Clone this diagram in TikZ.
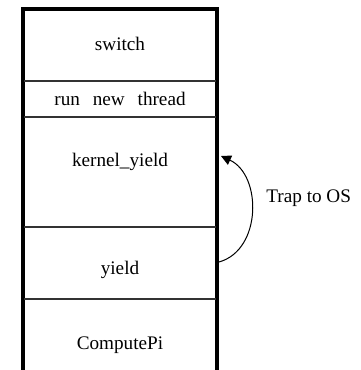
\documentclass[tikz,border=0pt]{standalone}
\usepackage{fontspec}
\setmainfont{Liberation Serif}
\usetikzlibrary{arrows.meta}
\begin{document}
\begin{tikzpicture}[x=0.5pt,y=-0.5pt,
  outer/.style={line width=1.75pt,line cap=rect},
  divider/.style={line width=0.55pt,draw=black!80},
  lbl/.style={font=\fontsize{9.6pt}{11pt}\selectfont,inner sep=0pt},
  trap/.style={line width=0.5pt,-{Triangle[length=5pt,width=5pt]}}]
\useasboundingbox (0,0) rectangle (360,370);
% stack outline
\coordinate (tl) at (23,9);
\coordinate (tr) at (217,9);
\coordinate (bl) at (23,375);
\coordinate (br) at (217,375);
\draw[outer] (bl) -- (tl) -- (tr) -- (br);
% dividers
\foreach \y/\n in {81/d1,117/d2,227/d3,299/d4}{
  \coordinate (\n l) at (24,\y);
  \coordinate (\n r) at (216,\y);
  \draw[divider] (\n l) -- (\n r);
}
% labels
\node[lbl] (switch) at (120,44) {switch};
\node[lbl] (run) at (120,99) {run\hspace{0.67em}new\hspace{0.67em}thread};
\node[lbl] (kyield) at (120,162) {kernel\_yield};
\node[lbl] (yield) at (120,270) {yield};
\node[lbl] (pi) at (120,345) {ComputePi};
\node[lbl,anchor=west] (traplbl) at (266,198) {Trap to OS};
% trap arrow
\coordinate (from) at (219,262);
\coordinate (to) at (221,156);
\draw[trap] (from) .. controls (262,250) and (262,175) .. (to);
\end{tikzpicture}
\end{document}
